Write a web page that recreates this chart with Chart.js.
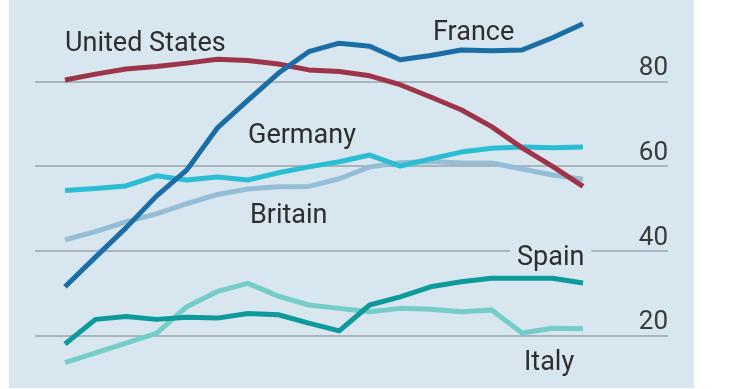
<!DOCTYPE html>
<html>
<head>
<meta charset="utf-8">
<script src="https://cdn.jsdelivr.net/npm/chart.js@4.4.0/dist/chart.umd.min.js"></script>
<style>
  body { margin: 0; background: #fff; }
  canvas { display: block; }
</style>
</head>
<body>
<canvas id="chart" width="740" height="389"></canvas>
<script>
// x positions are just the 18 survey points, no axis shown
var steps = [0, 1, 2, 3, 4, 5, 6, 7, 8, 9, 10, 11, 12, 13, 14, 15, 16, 17];

var france  = [31.6, 38.6, 45.5, 53.0, 59.2, 69.1, 75.6, 82.0, 87.1, 89.1, 88.4, 85.2, 86.2, 87.5, 87.3, 87.5, 90.4, 93.7];
var usa     = [80.4, 81.8, 83.0, 83.6, 84.4, 85.3, 85.0, 84.2, 82.8, 82.4, 81.4, 79.3, 76.4, 73.4, 69.4, 64.4, 60.0, 55.3];
var germany = [54.3, 54.8, 55.4, 57.8, 56.8, 57.5, 56.8, 58.5, 59.9, 61.1, 62.7, 60.1, 61.8, 63.4, 64.3, 64.6, 64.4, 64.6];
var britain = [42.7, 44.6, 46.9, 48.8, 51.2, 53.4, 54.7, 55.2, 55.3, 57.1, 59.9, 60.9, 61.2, 60.8, 60.8, 59.4, 58.0, 57.0];
var spain   = [18.1, 23.9, 24.6, 23.9, 24.4, 24.2, 25.3, 25.0, 23.0, 21.2, 27.3, 29.2, 31.6, 32.8, 33.6, 33.6, 33.6, 32.5];
var italy   = [13.7, 16.0, 18.3, 20.6, 26.9, 30.5, 32.4, 29.4, 27.3, 26.5, 25.7, 26.5, 26.3, 25.7, 26.1, 20.7, 21.8, 21.7];

var yTicks = [20, 40, 60, 80];

var panelColor = '#d8e6ef';

function pts(values) {
  return values.map(function(v, i) { return {x: steps[i], y: v}; });
}

function serie(label, values, color) {
  return {
    label: label,
    data: pts(values),
    borderColor: color,
    borderWidth: 5,
    borderJoinStyle: 'round',
    pointRadius: 0,
    tension: 0,
    fill: false
  };
}

// country names sit next to their lines
var labels = [
  {text: 'United States', x: 65, y: 51},
  {text: 'France', x: 433, y: 40},
  {text: 'Germany', x: 248, y: 143},
  {text: 'Britain', x: 250, y: 223},
  {text: 'Spain', x: 517, y: 265, gap: true},
  {text: 'Italy', x: 524, y: 370}
];

var tlo = {
  id: 'tlo',
  beforeDraw: function(chart) {
    var ctx = chart.ctx;
    ctx.save();
    ctx.fillStyle = '#ffffff';
    ctx.fillRect(0, 0, chart.width, chart.height);
    ctx.fillStyle = panelColor;
    ctx.fillRect(9, 0, 685, 388);
    ctx.restore();
  },
  afterDatasetsDraw: function(chart) {
    var ctx = chart.ctx;
    var sy = chart.scales.y;
    ctx.save();
    // skala po prawej, nad liniami siatki
    ctx.font = '26px Roboto';
    ctx.fillStyle = '#3a3a3a';
    ctx.textAlign = 'right';
    ctx.textBaseline = 'alphabetic';
    yTicks.forEach(function(v) {
      ctx.fillText(String(v), chart.chartArea.right, sy.getPixelForValue(v) - 6.5);
    });

    ctx.textAlign = 'left';
    ctx.font = '27px Roboto';
    labels.forEach(function(l) {
      var w = ctx.measureText(l.text).width;
      if (l.gap) {
        var gy = sy.getPixelForValue(40);
        ctx.fillStyle = panelColor;
        ctx.fillRect(l.x - 7, gy - 4, w + 14, 8);
      }
      ctx.fillStyle = '#2e2e2e';
      ctx.fillText(l.text, l.x, l.y);
    });
    ctx.restore();
  }
};

new Chart(document.getElementById('chart'), {
  type: 'line',
  data: {
    datasets: [
      serie('France', france, '#1a6da5'),
      serie('United States', usa, '#9e3449'),
      serie('Spain', spain, '#0e9a9c'),
      serie('Germany', germany, '#2bbdd3'),
      serie('Britain', britain, '#95bdd5'),
      serie('Italy', italy, '#74cdc6')
    ]
  },
  options: {
    responsive: false,
    animation: false,
    layout: { padding: { left: 35, right: 72, top: 0, bottom: 1 } },
    plugins: { legend: { display: false }, tooltip: { enabled: false } },
    scales: {
      x: {
        type: 'linear',
        display: false,
        min: -0.985,
        max: 19.79
      },
      y: {
        position: 'right',
        min: 7.7,
        max: 99.3,
        afterBuildTicks: function(scale) {
          scale.ticks = yTicks.map(function(v) { return {value: v}; });
        },
        border: { display: false },
        grid: { color: '#a9b4bc', lineWidth: 2, drawTicks: false },
        ticks: { display: false }
      }
    }
  },
  plugins: [tlo]
});
</script>
</body>
</html>
